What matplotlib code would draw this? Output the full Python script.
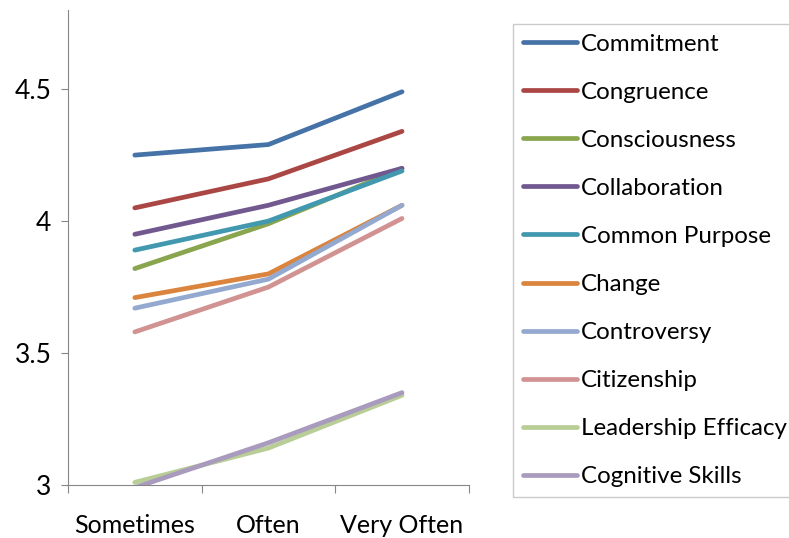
"""Line chart of leadership scale means by frequency of participation."""

import matplotlib

matplotlib.use("Agg")
import matplotlib.pyplot as plt

categories = ["Sometimes", "Often", "Very Often"]
series_names = [
    "Commitment",
    "Congruence",
    "Consciousness",
    "Collaboration",
    "Common Purpose",
    "Change",
    "Controversy",
    "Citizenship",
    "Leadership Efficacy",
    "Cognitive Skills",
]
commitment = [4.25, 4.29, 4.49]
congruence = [4.05, 4.16, 4.34]
consciousness = [3.82, 3.99, 4.20]
collaboration = [3.95, 4.06, 4.20]
common_purpose = [3.89, 4.00, 4.19]
change = [3.71, 3.80, 4.06]
controversy = [3.67, 3.78, 4.06]
citizenship = [3.58, 3.75, 4.01]
leadership_efficacy = [3.01, 3.14, 3.34]
cognitive_skills = [2.99, 3.16, 3.35]
colors = [
    "#4572A7", "#AA4643", "#89A54E", "#71588F", "#4198AF",
    "#DB843D", "#93A9CF", "#D19392", "#B9CD96", "#A99BBD",
]

values = [
    commitment, congruence, consciousness, collaboration, common_purpose,
    change, controversy, citizenship, leadership_efficacy, cognitive_skills,
]

plt.rcParams["font.family"] = ["Lato", "DejaVu Sans"]
fig = plt.figure(figsize=(7.89, 5.38), dpi=100)
ax = fig.add_axes([0.0862, 0.0985, 0.508, 0.883])

x = [i + 0.5 for i in range(len(categories))]
for name, vals, color in zip(series_names, values, colors):
    ax.plot(x, vals, color=color, lw=3.4, label=name, solid_capstyle="round")

ax.set_xlim(0, 3)
ax.set_ylim(3, 4.8)
ax.set_yticks([3, 3.5, 4, 4.5])
ax.set_yticklabels(["3", "3.5", "4", "4.5"])
ax.set_xticks([0, 1, 2, 3])
ax.set_xticklabels([])
ax.set_xticks(x, minor=True)
ax.set_xticklabels(categories, minor=True)
ax.tick_params(axis="x", which="major", length=6, color="#868686", direction="out")
ax.tick_params(axis="x", which="minor", length=0, pad=21, labelsize=18)
ax.tick_params(axis="y", length=5, color="#868686", pad=7, labelsize=19)
for side in ("top", "right"):
    ax.spines[side].set_visible(False)
for side in ("left", "bottom"):
    ax.spines[side].set_color("#868686")

leg = fig.legend(
    loc="upper left",
    bbox_to_anchor=(513 / 789, 1 - 24 / 538),
    fontsize=17.4,
    handlelength=2.25,
    handletextpad=0.15,
    labelspacing=1.12,
    borderpad=0.4,
    borderaxespad=0,
    fancybox=False,
    frameon=True,
)
leg.get_frame().set_edgecolor("#BFBFBF")
leg.get_frame().set_linewidth(1.0)

fig.savefig("out.png", dpi=100)
